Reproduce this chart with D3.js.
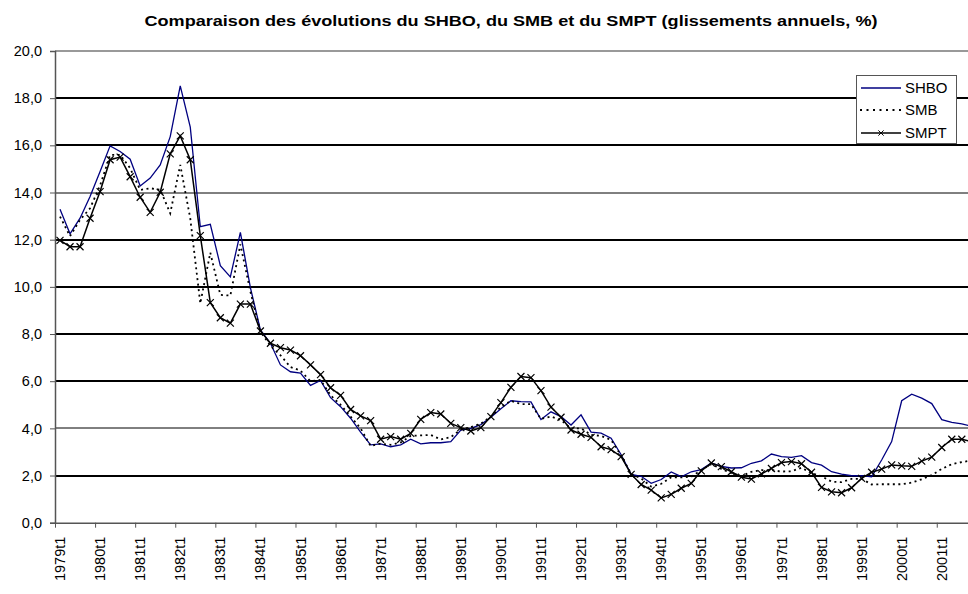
<!DOCTYPE html>
<html><head><meta charset="utf-8">
<script src="https://cdn.jsdelivr.net/npm/d3@7"></script>
<style>
html,body{margin:0;padding:0;background:#fff;}
svg{display:block;font-family:Arial,"Liberation Sans",sans-serif;}
</style></head>
<body><svg id="c" width="968" height="594"></svg>
<script>
const title = "Comparaison des évolutions du SHBO, du SMB et du SMPT (glissements annuels, %)";
const years = d3.range(1979, 2002);
const quarters = ["t1","t2","t3","t4"];
const categories = years.flatMap(y => quarters.map(q => y + q));
const yTicks = [0,2,4,6,8,10,12,14,16,18,20];

const SHBO = [13.29,12.25,12.91,13.83,14.89,15.98,15.74,15.41,14.28,14.61,15.17,16.37,18.52,16.77,12.55,12.65,
10.90,10.42,12.31,9.97,8.17,7.61,6.69,6.40,6.34,5.82,6.03,5.30,4.92,4.43,3.84,3.30,
3.34,3.22,3.30,3.54,3.34,3.39,3.39,3.44,3.93,4.00,4.16,4.47,4.83,5.17,5.13,5.12,
4.37,4.70,4.50,4.14,4.57,3.84,3.80,3.58,2.88,2.05,1.97,1.67,1.83,2.15,1.95,2.16,
2.25,2.53,2.39,2.32,2.33,2.52,2.62,2.91,2.80,2.77,2.84,2.55,2.44,2.16,2.06,1.99,
2.00,1.95,2.66,3.44,5.17,5.45,5.28,5.05,4.37,4.25,4.19,4.09];

const SMB = [12.98,12.15,12.84,13.33,14.30,15.59,15.60,15.03,14.11,14.18,14.12,13.12,15.17,12.90,9.30,11.45,
9.66,9.63,11.80,9.80,8.10,7.50,7.10,6.60,6.45,6.00,6.05,5.40,5.00,4.50,4.00,3.25,
3.35,3.30,3.40,3.68,3.70,3.72,3.53,3.63,3.95,4.05,4.20,4.50,4.90,5.17,5.03,5.03,
4.40,4.50,4.35,4.00,4.00,3.72,3.68,3.51,2.85,2.07,1.88,1.53,1.65,1.93,1.92,1.95,
2.23,2.48,2.28,2.10,1.97,2.16,2.23,2.23,2.17,2.18,2.33,2.10,1.97,1.74,1.72,1.86,
1.86,1.62,1.63,1.63,1.63,1.70,1.84,2.02,2.28,2.48,2.57,2.64];

const SMPT = [11.97,11.70,11.70,12.91,14.04,15.39,15.50,14.67,13.80,13.16,14.01,15.64,16.40,15.39,12.17,9.33,
8.69,8.46,9.27,9.27,8.13,7.61,7.42,7.32,7.08,6.69,6.28,5.72,5.40,4.80,4.53,4.33,
3.54,3.65,3.54,3.79,4.38,4.67,4.61,4.21,4.03,3.89,4.03,4.50,5.09,5.74,6.20,6.15,
5.60,4.90,4.47,3.93,3.75,3.62,3.22,3.10,2.80,2.05,1.62,1.38,1.05,1.20,1.46,1.67,
2.20,2.53,2.38,2.16,1.93,1.85,2.07,2.30,2.55,2.59,2.50,2.14,1.50,1.31,1.27,1.48,
1.88,2.14,2.27,2.45,2.41,2.39,2.61,2.78,3.19,3.54,3.54,3.44];

const seriesNames = ["SHBO","SMB","SMPT"];
const seriesData = [SHBO, SMB, SMPT];
const seriesColors = ["#000080","#000000","#000000"];

const svg = d3.select("#c");
const L = 55, T = 51, B = 522.7, R = 55 + categories.length * 10.02;

const x = d3.scaleBand().domain(categories).range([L, R]).padding(0);
const xi = d3.scaleLinear().domain([0, categories.length]).range([L, R]);
const y = d3.scaleLinear().domain([0, 20]).range([B, T]);
const locale = d3.formatLocale({decimal: ",", thousands: " ", grouping: [3], currency: ["", "€"]});
const fmt = locale.format(".1f");

// gridlines
svg.append("g").selectAll("line").data(yTicks.filter(d => d > 0 && d < 20)).join("line")
  .attr("x1", L).attr("x2", R)
  .attr("y1", d => Math.round(y(d))).attr("y2", d => Math.round(y(d)))
  .attr("stroke", "#000").attr("stroke-width", d => (d === 4 || d === 14) ? 1 : 2);

// top border
svg.append("line").attr("x1", L).attr("x2", R).attr("y1", y(20)).attr("y2", y(20))
  .attr("stroke", "#777").attr("stroke-width", 1.5);

// y axis
const ya = svg.append("g").attr("transform", `translate(${L},0)`)
  .call(d3.axisLeft(y).tickValues(yTicks).tickFormat(fmt).tickSize(5).tickPadding(8));
ya.select(".domain").attr("stroke", "#555").attr("stroke-width", 1.5);
ya.selectAll(".tick line").attr("stroke", "#555");
ya.selectAll("text").attr("font-size", "14.5px").attr("fill", "#000").attr("font-family", "Arial, 'Liberation Sans', sans-serif");

// x axis ticks
const xa = svg.append("g").attr("transform", `translate(0,${B})`)
  .call(d3.axisBottom(xi).tickValues(d3.range(0, categories.length + 1, 4)).tickFormat("").tickSize(5).tickSizeOuter(0));
xa.select(".domain").attr("stroke", "#555").attr("stroke-width", 1.5);
xa.selectAll(".tick line").attr("stroke", "#555");

// x labels
const labelCats = categories.filter((c, i) => i % 4 === 0);
svg.append("g").selectAll("text").data(labelCats).join("text")
  .attr("transform", d => `translate(${x(d) + x.bandwidth() / 2},${B + 14}) rotate(-90)`)
  .attr("text-anchor", "end").attr("dy", "0.35em")
  .attr("font-size", "14.5px").attr("fill", "#000")
  .text(d => d);

// lines
const line = d3.line().x((d, i) => x(categories[i]) + x.bandwidth() / 2).y(d => y(d));
svg.append("path").datum(SHBO).attr("d", line).attr("fill", "none")
  .attr("stroke", seriesColors[0]).attr("stroke-width", 1.3);
svg.append("path").datum(SMB).attr("d", line).attr("fill", "none")
  .attr("stroke", seriesColors[1]).attr("stroke-width", 1.8).attr("stroke-dasharray", "2,3.5");
svg.append("path").datum(SMPT).attr("d", line).attr("fill", "none")
  .attr("stroke", seriesColors[2]).attr("stroke-width", 1.5);
const cross = "M-3.5,-3.5L3.5,3.5M-3.5,3.5L3.5,-3.5";
svg.append("g").selectAll("path").data(SMPT).join("path")
  .attr("transform", (d, i) => `translate(${x(categories[i]) + x.bandwidth() / 2},${y(d)})`)
  .attr("d", cross).attr("stroke", "#000").attr("stroke-width", 1.2).attr("fill", "none");

// title
svg.append("text").attr("x", 511).attr("y", 26).attr("text-anchor", "middle")
  .attr("font-weight", "bold").attr("font-size", "15.5px")
  .attr("textLength", 733).attr("lengthAdjust", "spacingAndGlyphs")
  .text(title);

// legend
const lg = svg.append("g");
lg.append("rect").attr("x", 856.5).attr("y", 75.5).attr("width", 100).attr("height", 68)
  .attr("fill", "#fff").attr("stroke", "#555").attr("stroke-width", 1);
const ly = [88, 110, 133];
seriesNames.forEach((n, k) => {
  const g = lg.append("g");
  const ln = g.append("line").attr("x1", 861).attr("x2", 901).attr("y1", ly[k]).attr("y2", ly[k])
    .attr("stroke", seriesColors[k]).attr("stroke-width", k === 0 ? 1.3 : (k === 1 ? 1.8 : 1.3));
  if (k === 1) ln.attr("x1", 860).attr("x2", 903).attr("stroke-dasharray", "2,4.5");
  if (k === 2) g.append("path").attr("d", cross).attr("transform", `translate(881,${ly[k]}) scale(0.75)`)
    .attr("stroke", "#000").attr("stroke-width", 1.3).attr("fill", "none");
  g.append("text").attr("x", 905).attr("y", ly[k]).attr("dy", "0.36em")
    .attr("font-size", "15px").attr("fill", "#000").text(n);
});
</script></body></html>
